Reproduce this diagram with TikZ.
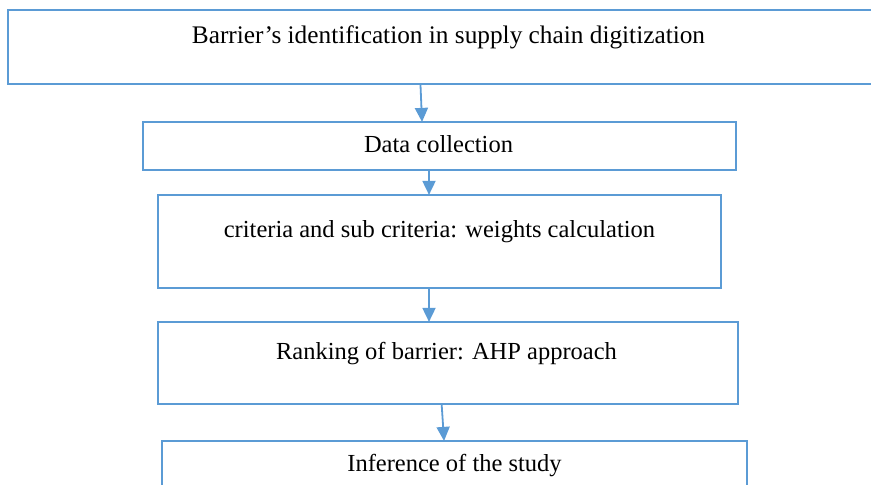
\documentclass[tikz,border=0pt]{standalone}
\usepackage{fontspec}
\setmainfont{Liberation Serif}
\usetikzlibrary{arrows.meta,calc}
\definecolor{boxblue}{HTML}{5B9BD5}
\begin{document}
\begin{tikzpicture}[x=1pt,y=-1pt,
  stage/.style={draw=boxblue, line width=2.2pt, inner sep=0pt, fill=white},
  lbl/.style={font=\fontsize{24.5}{28}\selectfont, inner sep=0pt, anchor=base},
  headlbl/.style={lbl, font=\fontsize{25.3}{29}\selectfont},
  flow/.style={draw=boxblue, line width=1.8pt,
    -{Triangle[length=14pt,width=13pt]}, shorten >=-1pt}]
\useasboundingbox (0,0) rectangle (871,485);
\clip (0,0) rectangle (871,485);

% process stages
\node[stage, minimum width=874pt, minimum height=74pt] (ident) at (445,47) {};
\node[stage, minimum width=593pt, minimum height=48pt] (data) at (439.5,146) {};
\node[stage, minimum width=563pt, minimum height=93pt] (crit) at (439.5,241.5) {};
\node[stage, minimum width=580pt, minimum height=82pt] (rank) at (448,363) {};
\node[stage, minimum width=585pt, minimum height=54pt] (infer) at (454.5,468) {};

% stage titles
\node[headlbl] (identtxt) at (448.5,43.3) {Barrier’s identification in supply chain digitization};
\node[lbl] (datatxt) at (438.5,152.7) {Data collection};
\node[lbl] (crittxt) at (439.5,237.3) {criteria and sub criteria: weights calculation};
\node[lbl] (ranktxt) at (446.5,359.3) {Ranking of barrier: AHP approach};
\node[lbl] (infertxt) at (454.5,471.7) {Inference of the study};

% connectors between stages
\draw[flow] ($(ident.south)+(-24.5,0)$) -- ($(data.north)+(-17.5,0)$);
\draw[flow] ($(data.south)+(-10.5,0)$) -- ($(crit.north)+(-10.5,0)$);
\draw[flow] ($(crit.south)+(-10.5,0)$) -- ($(rank.north)+(-19,0)$);
\draw[flow] ($(rank.south)+(-6.3,0)$) -- ($(infer.north)+(-10.5,0)$);
\end{tikzpicture}
\end{document}
